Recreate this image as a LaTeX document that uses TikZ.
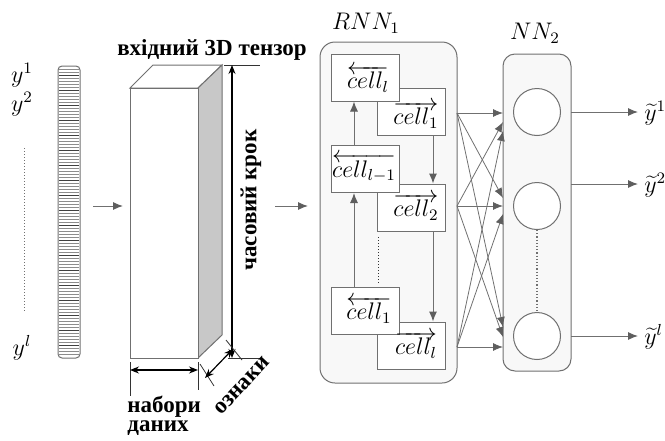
\documentclass[tikz,border=0pt]{standalone}
\usepackage{fontspec}
\newfontfamily\cyr{Liberation Serif}[BoldFont={Liberation Serif Bold}]
\usetikzlibrary{arrows.meta}
\definecolor{ln}{HTML}{707070}
\definecolor{tipc}{HTML}{5E5E5E}
\definecolor{panelfill}{HTML}{F8F8F8}
\definecolor{sidefill}{HTML}{C8C8C8}
\tikzset{
  arr/.style={draw=ln, line width=0.5pt, -{Latex[length=5pt,width=4pt,color=tipc]}},
  dimarr/.style={draw=black, line width=0.6pt, {Stealth[length=4.5pt,width=3.5pt]}-{Stealth[length=4.5pt,width=3.5pt]}},
  extline/.style={draw=black!80, line width=0.4pt},
  cellbox/.style={draw=ln, fill=white, line width=0.5pt, minimum width=34pt, minimum height=23.5pt, inner sep=0pt},
  celltxt/.style={font=\large, inner sep=0pt},
  panel/.style={draw=ln, fill=panelfill, line width=0.5pt, inner sep=0pt},
  neuron/.style={circle, draw=ln, fill=white, line width=0.5pt, minimum size=23.5pt, inner sep=0pt},
  mathlbl/.style={font=\large, inner sep=0pt},
  cyrlbl/.style={font=\cyr\bfseries\fontsize{11.5}{10.5}\selectfont, inner sep=0pt},
}
\begin{document}
\begin{tikzpicture}[x=0.5pt,y=-0.5pt]
\useasboundingbox (0,0) rectangle (665,440);

% ---------- input sequence ----------
\node[mathlbl] (y1) at (22,75) {$y^1$};
\node[mathlbl] (y2) at (22,104) {$y^2$};
\node[mathlbl] (yl) at (22,348) {$y^l$};
\coordinate (dt) at (24,148);
\coordinate (db) at (24,312);
\draw[ln, densely dotted, line width=0.5pt] (dt) -- (db);

% striped bar
\node[draw=ln, rounded corners=2pt, line width=0.5pt, minimum width=11pt, minimum height=146pt, inner sep=0pt] (bar) at (69,212) {};
\foreach \i in {0,...,95} {
  \pgfmathsetmacro{\yy}{69+3*\i}
  \pgfmathtruncatemacro{\dark}{mod(\i,5)==2 ? 1 : 0}
  \ifnum\dark=1
    \draw[black!75, line width=0.45pt] (59,\yy) -- (79,\yy);
  \else
    \draw[black!45, line width=0.45pt] (59,\yy) -- (79,\yy);
  \fi
}

\coordinate (a1s) at (93,206);
\coordinate (a1e) at (123,206);
\draw[arr] (a1s) -- (a1e);

% ---------- 3D tensor ----------
\coordinate (fA) at (130,88);
\coordinate (fB) at (198,88);
\coordinate (fC) at (198,358);
\coordinate (fD) at (130,358);
\coordinate (bA) at (153,65);
\coordinate (bB) at (222,65);
\coordinate (bC) at (222,335);
\draw[ln, fill=white, line width=0.5pt] (fA) -- (bA) -- (bB) -- (fB) -- cycle;
\draw[ln, fill=sidefill, line width=0.5pt] (fB) -- (bB) -- (bC) -- (fC) -- cycle;
\draw[ln, fill=white, line width=0.5pt] (fA) rectangle (fC);

\node[cyrlbl] (title) at (212,50) {вхідний 3D тензор};

% height dimension
\coordinate (ht1) at (224,65);
\coordinate (ht2) at (260,65);
\coordinate (hb1) at (228,358);
\coordinate (hb2) at (260,358);
\draw[extline] (ht1) -- (ht2);
\draw[extline] (hb1) -- (hb2);
\coordinate (hdt) at (232,65);
\coordinate (hdb) at (232,358);
\draw[dimarr] (hdt) -- (hdb);
\node[cyrlbl, rotate=90] (steps) at (251,200) {часовий крок};

% width dimension
\coordinate (wl1) at (130,362);
\coordinate (wl2) at (130,396);
\coordinate (wr1) at (198,362);
\coordinate (wr2) at (198,390);
\draw[extline] (wl1) -- (wl2);
\draw[extline] (wr1) -- (wr2);
\coordinate (wdl) at (130,370);
\coordinate (wdr) at (198,370);
\draw[dimarr] (wdl) -- (wdr);
\node[cyrlbl, align=left, anchor=west] (sets) at (127,407) {набори};
\node[cyrlbl, align=left, anchor=west] (sets2) at (127,428) {даних};

% depth dimension
\coordinate (dl1) at (200,364);
\coordinate (dl2) at (214,386);
\coordinate (dr1) at (226,340);
\coordinate (dr2) at (242,360);
\draw[extline] (dl1) -- (dl2);
\draw[extline] (dr1) -- (dr2);
\coordinate (ddl) at (205,378);
\coordinate (ddr) at (233,349);
\draw[dimarr] (ddl) -- (ddr);
\node[cyrlbl, rotate=47] (feat) at (242,386) {ознаки};

\coordinate (a2s) at (275,206);
\coordinate (a2e) at (308,206);
\draw[arr] (a2s) -- (a2e);

% ---------- RNN_1 ----------
\node[panel, rounded corners=7.5pt, minimum width=68.5pt, minimum height=170.5pt] (rnn) at (388.5,212.5) {};
\node[mathlbl] (rnnlbl) at (366,23) {$RNN_1$};

% forward cells (behind)
\node[cellbox] (f1) at (411.5,112) {};
\node[cellbox] (f2) at (411.5,207.5) {};
\node[cellbox] (f3) at (411.5,345.5) {};
% backward cells (in front)
\node[cellbox] (b1) at (365,77.5) {};
\node[cellbox] (b2) at (365,169) {};
\node[cellbox] (b3) at (365,311) {};

\node[celltxt] (f1t) at (416,115) {$\overrightarrow{cell_1}$};
\node[celltxt] (f2t) at (416,207) {$\overrightarrow{cell_2}$};
\node[celltxt] (f3t) at (416,345) {$\overrightarrow{cell_l}$};
\node[celltxt] (b1t) at (368,79) {$\overleftarrow{cell_l}$};
\node[celltxt] (b2t) at (364,168) {$\overleftarrow{cell_{l-1}}$};
\node[celltxt] (b3t) at (369,310) {$\overleftarrow{cell_1}$};

% backward chain (upwards)
\coordinate (xu) at (354,0);
\draw[arr] (b2.north -| xu) -- (b1.south -| xu);
\draw[arr] (b3.north -| xu) -- (b2.south -| xu);
% forward chain (downwards)
\coordinate (xd) at (433,0);
\draw[arr] (f1.south -| xd) -- (f2.north -| xd);
\draw[arr] (f2.south -| xd) -- (f3.north -| xd);
% elided cells
\coordinate (el1) at (378,237);
\coordinate (el2) at (378,283);
\draw[black!80, densely dotted, line width=0.5pt] (el1) -- (el2);

% ---------- NN_2 ----------
\node[panel, rounded corners=6pt, minimum width=34pt, minimum height=158.5pt] (nn) at (537,212.5) {};
\node[mathlbl] (nnlbl) at (535,33) {$NN_2$};
\node[neuron] (c1) at (537,112) {};
\node[neuron] (c2) at (537,206) {};
\node[neuron] (c3) at (537,336) {};
\draw[ln, densely dotted, line width=0.6pt] (c2.south) -- (c3.north);

% full connections RNN_1 -> NN_2
\coordinate (s1) at (457,113);
\coordinate (s2) at (457,206);
\coordinate (s3) at (457,347);
\coordinate (t11) at (503,113);
\coordinate (t12) at (503,122);
\coordinate (t13) at (503,131);
\coordinate (t21) at (503,198);
\coordinate (t22) at (503,206);
\coordinate (t23) at (503,214);
\coordinate (t31) at (503,327);
\coordinate (t32) at (503,337);
\coordinate (t33) at (503,347);
\draw[arr, line width=0.4pt] (s1) -- (t11);
\draw[arr, line width=0.4pt] (s1) -- (t21);
\draw[arr, line width=0.4pt] (s1) -- (t31);
\draw[arr, line width=0.4pt] (s2) -- (t12);
\draw[arr, line width=0.4pt] (s2) -- (t22);
\draw[arr, line width=0.4pt] (s2) -- (t32);
\draw[arr, line width=0.4pt] (s3) -- (t13);
\draw[arr, line width=0.4pt] (s3) -- (t23);
\draw[arr, line width=0.4pt] (s3) -- (t33);

% ---------- outputs ----------
\coordinate (o1s) at (571,112);
\coordinate (o2s) at (571,184);
\coordinate (o3s) at (571,336);
\coordinate (o1e) at (638,112);
\coordinate (o2e) at (638,184);
\coordinate (o3e) at (638,336);
\node[mathlbl, anchor=west] (o1) at (644,113) {$\widetilde{y}^1$};
\node[mathlbl, anchor=west] (o2) at (644,185) {$\widetilde{y}^2$};
\node[mathlbl, anchor=west] (o3) at (644,337) {$\widetilde{y}^l$};
\draw[arr] (o1s) -- (o1e);
\draw[arr] (o2s) -- (o2e);
\draw[arr] (o3s) -- (o3e);
\end{tikzpicture}
\end{document}
